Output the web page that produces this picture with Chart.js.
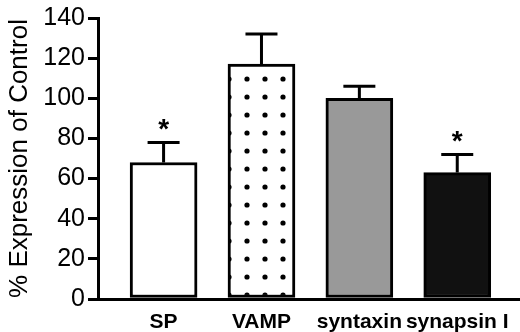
<!DOCTYPE html>
<html>
<head>
<meta charset="utf-8">
<script src="https://cdn.jsdelivr.net/npm/chart.js@4/dist/chart.umd.min.js"></script>
<style>
  body { margin: 0; background: #fff; }
  #wrap { width: 520px; height: 332px; }
</style>
</head>
<body>
<div id="wrap"><canvas id="chart"></canvas></div>
<script>
var Proteins = ['SP', 'VAMP', 'syntaxin', 'synapsin I'];
var Expression = [68, 117, 100, 63];
var ErrorSEM = [10, 15, 6, 9];
var Significant = [true, false, false, true];
var YTicks = [0, 20, 40, 60, 80, 100, 120, 140];

// dotted fill for the VAMP bar
function dotPattern() {
    var c = document.createElement('canvas');
    c.width = 18; c.height = 18;
    var g = c.getContext('2d');
    g.fillStyle = '#fff';
    g.fillRect(0, 0, 18, 18);
    g.fillStyle = '#000';
    g.beginPath();
    g.arc(13, 7, 2.6, 0, Math.PI * 2);
    g.fill();
    return g.createPattern(c, 'repeat');
}

var errorBars = {
    id: 'errorBars',
    afterDatasetsDraw(chart) {
        const ctx = chart.ctx;
        const xs = chart.scales.x, ys = chart.scales.y;
        ctx.save();
        ctx.strokeStyle = '#000';
        ctx.lineWidth = 3;
        for (let i = 0; i < Expression.length; i++) {
            const x = xs.getPixelForValue(i);
            const yBar = ys.getPixelForValue(Expression[i]);
            const yTop = ys.getPixelForValue(Expression[i] + ErrorSEM[i]);
            ctx.beginPath();
            ctx.moveTo(x, yBar);
            ctx.lineTo(x, yTop);
            ctx.moveTo(x - 16, yTop);
            ctx.lineTo(x + 16, yTop);
            ctx.stroke();
            if (Significant[i]) {
                ctx.fillStyle = '#000';
                ctx.font = 'bold 28px "Liberation Sans", Arial, sans-serif';
                ctx.textAlign = 'center';
                ctx.textBaseline = 'middle';
                ctx.fillText('*', x, yTop - 12);
            }
        }
        ctx.restore();
    }
};

function initializeChart() {
    const ctx = document.getElementById('chart').getContext('2d');
    const fills = ['#ffffff', dotPattern(), '#999999', '#111111'];

    new Chart(ctx, {
        type: 'bar',
        data: {
            datasets: [{
                data: Expression.map((v, i) => ({ x: i, y: v })),
                backgroundColor: fills,
                borderColor: '#000',
                borderWidth: 3,
                borderSkipped: false,
                barThickness: 67
            }]
        },
        plugins: [errorBars],
        options: {
            responsive: true,
            maintainAspectRatio: false,
            animation: false,
            layout: { padding: { top: 18, right: 0, left: 0, bottom: 0 } },
            plugins: {
                legend: { display: false },
                tooltip: { enabled: false }
            },
            scales: {
                x: {
                    type: 'linear',
                    offset: false,
                    min: -0.67,
                    max: 3.641,
                    afterBuildTicks: (scale) => { scale.ticks = Proteins.map((p, i) => ({ value: i })); },
                    afterFit: (scale) => { scale.height = 33; },
                    grid: { display: false },
                    border: { display: true, color: '#000', width: 3 },
                    ticks: {
                        padding: 3,
                        color: '#000',
                        maxRotation: 0,
                        autoSkip: false,
                        font: { family: '"Liberation Sans", Arial, sans-serif', size: 21, weight: 'bold' },
                        callback: (v) => Proteins[v]
                    }
                },
                y: {
                    min: 0,
                    max: 140,
                    afterBuildTicks: (scale) => { scale.ticks = YTicks.map(v => ({ value: v })); },
                    afterFit: (scale) => { scale.width = 98; },
                    grid: { drawOnChartArea: false, tickLength: 10, lineWidth: 3, color: '#000' },
                    border: { display: true, color: '#000', width: 3 },
                    ticks: {
                        padding: 3,
                        color: '#000',
                        font: { family: '"Liberation Sans", Arial, sans-serif', size: 25 }
                    },
                    title: {
                        display: true,
                        text: '% Expression of Control',
                        color: '#000',
                        padding: { top: 4, bottom: 0 },
                        font: { family: '"Liberation Sans", Arial, sans-serif', size: 26 }
                    }
                }
            }
        }
    });
}

initializeChart();
</script>
</body>
</html>
